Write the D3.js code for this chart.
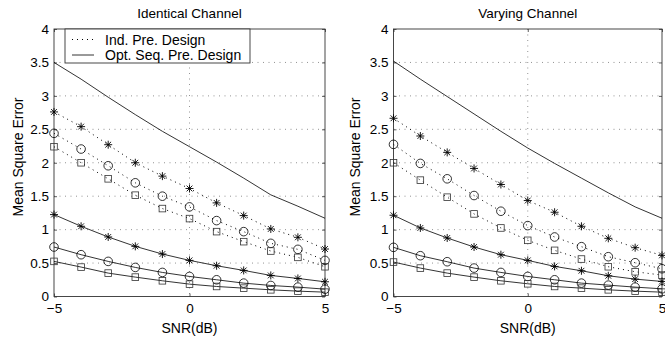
<!DOCTYPE html>
<html><head><meta charset="utf-8">
<script src="https://cdn.jsdelivr.net/npm/d3@7"></script>
<style>
body{margin:0;background:#fff}
text{font-family:"Liberation Sans",Arial,Helvetica,sans-serif;fill:#000}
</style>
</head><body><svg id="c" width="665" height="339"></svg>
<script>
// ---- data ----
const snr = [-5,-4,-3,-2,-1,0,1,2,3,4,5];
const xTicks = [-5,0,5];
const yTicks = [0,0.5,1,1.5,2,2.5,3,3.5,4];
const panelTitles = ["Identical Channel","Varying Channel"];
const legendLabels = ["Ind. Pre. Design","Opt. Seq. Pre. Design"];
const xLabel = "SNR(dB)";
const yLabel = "Mean Square Error";

// Identical channel
const idUpper      = [3.50,3.25,2.98,2.72,2.47,2.24,2.01,1.77,1.52,1.35,1.17];
const idIndStar    = [2.76,2.54,2.27,2.00,1.80,1.615,1.40,1.21,1.01,0.885,0.71];
const idIndCircle  = [2.44,2.205,1.955,1.70,1.50,1.34,1.135,0.97,0.795,0.705,0.54];
const idIndSquare  = [2.24,2.00,1.76,1.515,1.315,1.165,0.97,0.82,0.68,0.585,0.445];
const idSeqStar    = [1.225,1.05,0.89,0.75,0.635,0.54,0.46,0.39,0.315,0.27,0.22];
const idSeqCircle  = [0.74,0.625,0.525,0.435,0.36,0.30,0.25,0.20,0.165,0.14,0.11];
const idSeqSquare  = [0.525,0.44,0.35,0.29,0.235,0.185,0.15,0.125,0.10,0.08,0.065];

// Varying channel
const vaUpper      = [3.52,3.25,2.99,2.73,2.47,2.22,1.99,1.77,1.55,1.34,1.17];
const vaIndStar    = [2.665,2.40,2.155,1.915,1.675,1.435,1.26,1.05,0.87,0.73,0.615];
const vaIndCircle  = [2.275,1.99,1.76,1.51,1.275,1.06,0.89,0.745,0.595,0.505,0.415];
const vaIndSquare  = [2.00,1.74,1.485,1.235,1.025,0.84,0.69,0.56,0.445,0.37,0.32];
const vaSeqStar    = [1.215,1.025,0.875,0.74,0.625,0.54,0.45,0.385,0.31,0.26,0.225];
const vaSeqCircle  = [0.735,0.61,0.52,0.425,0.36,0.30,0.25,0.20,0.17,0.14,0.115];
const vaSeqSquare  = [0.515,0.425,0.35,0.29,0.235,0.19,0.15,0.125,0.10,0.08,0.065];

// ---- build ----
function seriesFor(upper, iS, iC, iQ, sS, sC, sQ){
  return [
    {v: upper, dotted:false, marker:null},
    {v: iS, dotted:true, marker:"star"},
    {v: iC, dotted:true, marker:"circle"},
    {v: iQ, dotted:true, marker:"square"},
    {v: sS, dotted:false, marker:"star"},
    {v: sC, dotted:false, marker:"circle"},
    {v: sQ, dotted:false, marker:"square"}
  ];
}
const panels = [
  {title: panelTitles[0], left: 54, right: 325, ylabX: 22.5, series: seriesFor(idUpper,idIndStar,idIndCircle,idIndSquare,idSeqStar,idSeqCircle,idSeqSquare), legend:true},
  {title: panelTitles[1], left: 393.5, right: 662, ylabX: 359.5, series: seriesFor(vaUpper,vaIndStar,vaIndCircle,vaIndSquare,vaSeqStar,vaSeqCircle,vaSeqSquare), legend:false}
];
const plotTop = 29, plotBottom = 296.5;
const svg = d3.select("#c");
const fsTick = 13.5, fsTitle = 13.5, fsLabel = 14, fsLegend = 14;
const fmt = d => d < 0 ? "\u2212" + Math.abs(d) : String(d);

function drawMarker(g, type, cx, cy){
  if(type === "circle"){
    g.append("circle").attr("cx",cx).attr("cy",cy).attr("r",4.3)
      .attr("fill","none").attr("stroke","#000").attr("stroke-width",0.8);
  } else if(type === "square"){
    g.append("rect").attr("x",cx-3.3).attr("y",cy-3.3).attr("width",6.6).attr("height",6.6)
      .attr("fill","none").attr("stroke","#333").attr("stroke-width",0.8);
  } else if(type === "star"){
    const r = 4, d = r*0.72;
    const segs = [[-r,0,r,0],[0,-r,0,r],[-d,-d,d,d],[-d,d,d,-d]];
    segs.forEach(s => g.append("line").attr("x1",cx+s[0]).attr("y1",cy+s[1]).attr("x2",cx+s[2]).attr("y2",cy+s[3])
      .attr("stroke","#000").attr("stroke-width",0.9));
  }
}

panels.forEach(p => {
  const x = d3.scaleLinear().domain([-5,5]).range([p.left, p.right]);
  const y = d3.scaleLinear().domain([0,4]).range([plotBottom, plotTop]);
  const g = svg.append("g");

  // grid
  const grid = g.append("g").attr("stroke","#777").attr("stroke-width",0.8).attr("stroke-dasharray","1,4.5");
  yTicks.filter(t => t > 0 && t < 4).forEach(t => grid.append("line")
    .attr("x1",p.left).attr("x2",p.right).attr("y1",y(t)).attr("y2",y(t)));
  xTicks.filter(t => t > -5 && t < 5).forEach(t => grid.append("line")
    .attr("x1",x(t)).attr("x2",x(t)).attr("y1",plotTop).attr("y2",plotBottom));

  // axes (ticks inside)
  const axL = g.append("g").attr("transform",`translate(${p.left},0)`)
    .call(d3.axisLeft(y).tickValues(yTicks).tickSize(-3).tickPadding(5).tickFormat(fmt));
  const axB = g.append("g").attr("transform",`translate(0,${plotBottom})`)
    .call(d3.axisBottom(x).tickValues(xTicks).tickSize(-3).tickPadding(7).tickFormat(fmt));
  const axR = g.append("g").attr("transform",`translate(${p.right},0)`)
    .call(d3.axisRight(y).tickValues(yTicks).tickSize(-3).tickFormat(""));
  const axT = g.append("g").attr("transform",`translate(0,${plotTop})`)
    .call(d3.axisTop(x).tickValues(xTicks).tickSize(-3).tickFormat(""));
  [axL,axB,axR,axT].forEach(a => {
    a.select(".domain").remove();
    a.selectAll("line").attr("stroke","#333").attr("stroke-width",0.8);
    a.selectAll("text").attr("font-size",fsTick).attr("font-family","Liberation Sans, Arial, sans-serif").attr("fill","#000");
  });
  g.append("rect").attr("x",p.left).attr("y",plotTop).attr("width",p.right-p.left).attr("height",plotBottom-plotTop)
    .attr("fill","none").attr("stroke","#333").attr("stroke-width",0.9);

  // series
  const line = d3.line().x((d,i) => x(snr[i])).y(d => y(d));
  p.series.forEach(s => {
    g.append("path").datum(s.v).attr("d",line).attr("fill","none")
      .attr("stroke","#000").attr("stroke-width", s.dotted ? 1 : 0.8)
      .attr("stroke-dasharray", s.dotted ? "1,4" : null);
    if(s.marker){
      const mg = g.append("g");
      s.v.forEach((v,i) => drawMarker(mg, s.marker, x(snr[i]), y(v)));
    }
  });

  // texts
  svg.append("text").attr("x",(p.left+p.right)/2).attr("y",18).attr("text-anchor","middle")
    .attr("font-size",fsTitle).text(p.title);
  svg.append("text").attr("x",(p.left+p.right)/2).attr("y",332.5).attr("text-anchor","middle")
    .attr("font-size",fsLabel).text(xLabel);
  svg.append("text").attr("transform",`translate(${p.ylabX},157) rotate(-90)`)
    .attr("text-anchor","middle").attr("font-size",fsLabel).text(yLabel);

  if(p.legend){
    const lg = svg.append("g");
    lg.append("rect").attr("x",65).attr("y",plotTop).attr("width",185).attr("height",34)
      .attr("fill","#fff").attr("stroke","#333").attr("stroke-width",0.9);
    [[legendLabels[0],true,39.5],[legendLabels[1],false,55]].forEach(([lab,dot,yy]) => {
      lg.append("line").attr("x1",72).attr("x2",94).attr("y1",yy).attr("y2",yy)
        .attr("stroke","#000").attr("stroke-width",dot?1:0.8).attr("stroke-dasharray",dot?"1,4":null);
      lg.append("text").attr("x",105).attr("y",yy+5).attr("font-size",fsLegend).text(lab);
    });
  }
});
</script>
</body></html>
